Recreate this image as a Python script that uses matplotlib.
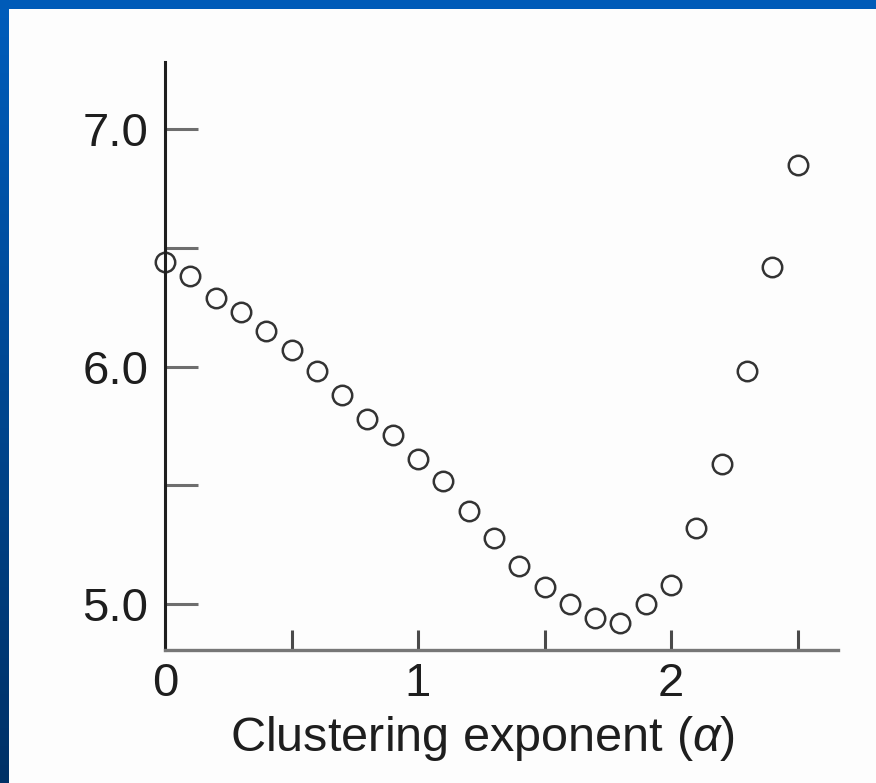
import numpy as np
import matplotlib
matplotlib.use('Agg')
import matplotlib.pyplot as plt
from matplotlib.patches import Rectangle

plt.rcParams['font.family'] = ['Liberation Sans', 'DejaVu Sans']
plt.rcParams['mathtext.fontset'] = 'custom'
plt.rcParams['mathtext.it'] = 'Liberation Sans:italic'
plt.rcParams['mathtext.rm'] = 'Liberation Sans'

# Data =====================================
alpha = [0.0, 0.1, 0.2, 0.3, 0.4, 0.5, 0.6, 0.7, 0.8, 0.9,
         1.0, 1.1, 1.2, 1.3, 1.4, 1.5, 1.6, 1.7, 1.8, 1.9,
         2.0, 2.1, 2.2, 2.3, 2.4, 2.5]
values = [6.44, 6.38, 6.29, 6.23, 6.15, 6.07, 5.98, 5.88, 5.78, 5.71,
          5.61, 5.52, 5.39, 5.28, 5.16, 5.07, 5.00, 4.94, 4.92, 5.00,
          5.08, 5.32, 5.59, 5.98, 6.42, 6.85]
yticks      = [5.0, 5.5, 6.0, 6.5, 7.0]
ytick_text  = ['5.0', '', '6.0', '', '7.0']
xticks      = [0, 0.5, 1, 1.5, 2, 2.5]
xtick_text  = ['0', '', '1', '', '2', '']
xlabel      = r'Clustering exponent ($\it{\alpha}$)'

W, H = 876, 783
fig = plt.figure(figsize=(W/100, H/100), dpi=100)
fig.patch.set_facecolor('#fdfdfd')

# Blue frame: gradient band on the left, flat band on top
band = fig.add_axes([0, 0, 9/W, 1])
grad = np.linspace(0, 1, 256).reshape(-1, 1)
cmap = matplotlib.colors.LinearSegmentedColormap.from_list('b', ['#005dbc', '#003166'])
band.imshow(grad, aspect='auto', cmap=cmap, origin='upper')
band.axis('off')
fig.add_artist(Rectangle((0, 1 - 9/H), 1, 9/H, transform=fig.transFigure,
                         color='#005bb8', lw=0))

# Main axes ================
left, right, top, bottom = 165, 838, 62, 650
ax = fig.add_axes([left/W, (H-bottom)/H, (right-left)/W, (bottom-top)/H])
ax.set_facecolor('none')
ax.plot(alpha, values, 'o', ms=14, mfc='none', mec='#333333', mew=1.8, clip_on=False)

ax.set_xlim(0, (right-left)/253)
ax.set_ylim(5.0 - (bottom-604)/237.5, 7.0 + (129-top)/237.5)

for s in ['top', 'right']:
    ax.spines[s].set_visible(False)
ax.spines['left'].set_color('#1e1e1e')
ax.spines['left'].set_linewidth(2.2)
ax.spines['bottom'].set_color('#777777')
ax.spines['bottom'].set_linewidth(2.4)

ax.set_yticks(yticks)
ax.set_yticklabels(ytick_text)
ax.set_xticks(xticks)
ax.set_xticklabels(xtick_text)
ax.tick_params(axis='y', direction='in', length=24, width=2.2, color='#6e6e6e',
               pad=12, labelsize=34, labelcolor='#1e1e1e')
ax.tick_params(axis='x', direction='in', length=14.5, width=2.2, color='#4a4a4a',
               pad=9, labelsize=34, labelcolor='#1e1e1e')

ax.set_xlabel(xlabel, fontsize=35, color='#1e1e1e')
ax.xaxis.set_label_coords((483-left)/(right-left), -(714-bottom)/(bottom-top))
ax.xaxis.label.set_va('top')

fig.savefig('out.png', dpi=100, facecolor=fig.get_facecolor())
